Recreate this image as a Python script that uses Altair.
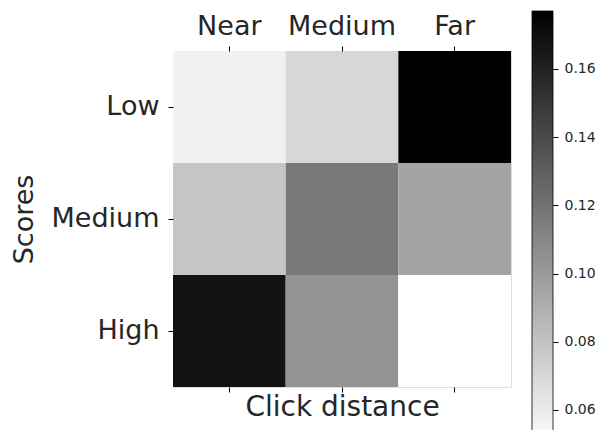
import altair as alt
import pandas as pd

# --- data ---
distances = ["Near", "Medium", "Far"]
scores = ["Low", "Medium", "High"]
values_low = [0.0570, 0.0699, 0.1770]
values_medium = [0.0784, 0.1167, 0.0953]
values_high = [0.1680, 0.1038, 0.0500]
colorbar_ticks = [0.06, 0.08, 0.10, 0.12, 0.14, 0.16]
VMIN, VMAX = 0.050, 0.177

rows = []
for s, vals in zip(scores, [values_low, values_medium, values_high]):
    for d, v in zip(distances, vals):
        rows.append({"score": s, "distance": d, "value": v})
df = pd.DataFrame(rows)
cb = pd.DataFrame({"lo": [VMIN], "hi": [VMAX]})

FONT = "DejaVu Sans"
TXT = "#262626"

color = alt.Color(
    "value:Q",
    scale=alt.Scale(domain=[VMIN, VMAX], range=["#ffffff", "#000000"], interpolate="rgb"),
    legend=None,
)

heat = alt.Chart(df).mark_rect().encode(
    x=alt.X(
        "distance:N",
        sort=distances,
        scale=alt.Scale(paddingInner=0, paddingOuter=0),
        axis=alt.Axis(
            orient="top", title=None, labelAngle=0, labelFontSize=27, labelFont=FONT,
            labelColor=TXT, labelBaseline="alphabetic", tickSize=5, tickColor="#000",
            labelPadding=12, domain=False,
        ),
    ),
    y=alt.Y(
        "score:N",
        sort=scores,
        scale=alt.Scale(paddingInner=0, paddingOuter=0),
        axis=alt.Axis(
            title="Scores", titleFontSize=27, titleFont=FONT, titleFontWeight="normal",
            titleColor=TXT, titlePadding=13, labelFontSize=27, labelFont=FONT,
            labelColor=TXT, tickSize=5, tickColor="#000", labelPadding=9, domain=False,
        ),
    ),
    color=color,
)

bottom_axis = alt.Chart(df).mark_rect(opacity=0).encode(
    x=alt.X(
        "distance:N",
        sort=distances,
        scale=alt.Scale(paddingInner=0, paddingOuter=0),
        axis=alt.Axis(
            orient="bottom", title="Click distance", titleFontSize=28, titleFont=FONT,
            titleFontWeight="normal", titleColor=TXT, titlePadding=1, labels=False,
            tickSize=5, tickColor="#000", domain=False,
        ),
    ),
)

colorbar = alt.Chart(cb).mark_rect(
    fill=alt.Gradient(
        gradient="linear",
        stops=[
            alt.GradientStop(color="#ffffff", offset=0),
            alt.GradientStop(color="#000000", offset=1),
        ],
        x1=0, x2=0, y1=1, y2=0,
    ),
    stroke="#000",
    strokeWidth=0.8,
).encode(
    x=alt.value(359),
    x2=alt.value(380),
    y=alt.Y(
        "lo:Q",
        scale=alt.Scale(domain=[VMIN, VMAX], range=[393, -40], zero=False, nice=False),
        axis=alt.Axis(
            orient="right", offset=42, title=None, values=colorbar_ticks, format=".2f",
            labelFontSize=14, labelFont=FONT, labelColor=TXT, tickSize=5,
            tickColor="#000", labelPadding=6, domain=False, grid=False,
        ),
    ),
    y2="hi:Q",
)

chart = (
    alt.layer(heat, bottom_axis, colorbar)
    .resolve_scale(x="independent", y="independent")
    .resolve_axis(x="independent", y="independent")
    .properties(
        width=338,
        height=336,
        autosize=alt.AutoSizeParams(type="none"),
        padding={"left": 165, "top": 43, "right": 89, "bottom": 43},
    )
    .configure_view(stroke="#000", strokeWidth=1)
    .configure(background="white")
)

chart.save("out.html", embed_options={"renderer": "svg", "actions": False})
